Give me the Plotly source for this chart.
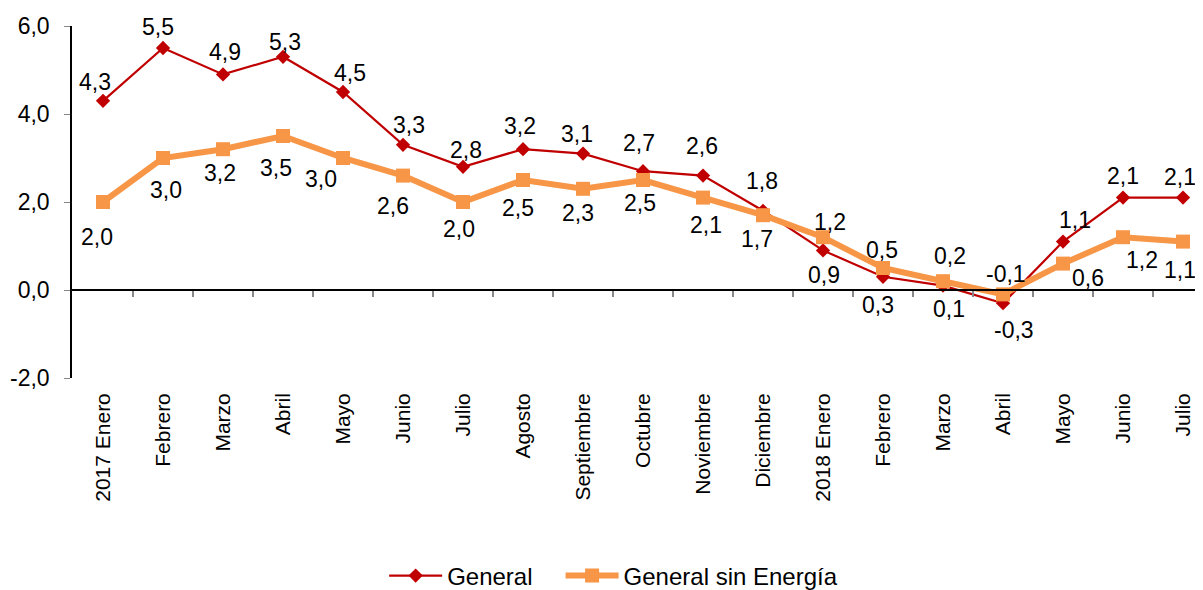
import plotly.graph_objects as go

categorias = ["2017 Enero", "Febrero", "Marzo", "Abril", "Mayo", "Junio", "Julio",
              "Agosto", "Septiembre", "Octubre", "Noviembre", "Diciembre",
              "2018 Enero", "Febrero", "Marzo", "Abril", "Mayo", "Junio", "Julio"]
general = [4.3, 5.5, 4.9, 5.3, 4.5, 3.3, 2.8, 3.2, 3.1, 2.7, 2.6, 1.8,
           0.9, 0.3, 0.1, -0.3, 1.1, 2.1, 2.1]
sin_energia = [2.0, 3.0, 3.2, 3.5, 3.0, 2.6, 2.0, 2.5, 2.3, 2.5, 2.1, 1.7,
               1.2, 0.5, 0.2, -0.1, 0.6, 1.2, 1.1]
y_ticks = [-2, 0, 2, 4, 6]

# data-label placement (pixel offsets from each point; +dy = downwards)
dx_general = [-8, -5, 2, 2, 7, 6, 3, -3, -6, -4, -1, -1, 1, -5, 6, 11, 12, 0, -3]
dy_general = [-19, -21, -22, -15, -19, -20, -17, -23, -20, -28, -30, -30,
              25, 28, 23, 27, -22, -22, -21]
dx_sin = [-6, 3, -3, -7, -22, -10, -4, -5, -5, -3, 3, -6, 7, -1, 7, 3, 25, 19, -3]
dy_sin = [35, 32, 24, 32, 21, 30, 27, 28, 24, 23, 27, 24, -15, -18, -25, -20, 14, 23, 28]

def fmt(v):
    return f"{v:.1f}".replace(".", ",")

x = list(range(len(categorias)))
FONT = "Liberation Sans, Arial, sans-serif"
LABEL_SIZE = 23

fig = go.Figure()
fig.add_trace(go.Scatter(
    x=x, y=general, name="General", mode="lines+markers",
    line=dict(color="#C00000", width=2.2),
    marker=dict(symbol="diamond", size=11, color="#C00000"),
    cliponaxis=False, legend="legend",
))
fig.add_trace(go.Scatter(
    x=x, y=sin_energia, name="General sin Energía", mode="lines+markers",
    line=dict(color="#F79646", width=6),
    marker=dict(symbol="square", size=14, color="#F79646"),
    cliponaxis=False, legend="legend2",
))
# invisible trace on xaxis2 so the zero-line axis with its ticks is drawn
fig.add_trace(go.Scatter(x=[0], y=[0], xaxis="x2", mode="markers",
                         marker=dict(opacity=0), showlegend=False, hoverinfo="skip"))

annotations = []
for serie, dxs, dys in ((general, dx_general, dy_general), (sin_energia, dx_sin, dy_sin)):
    for i, v in enumerate(serie):
        annotations.append(dict(
            x=x[i], y=v, xref="x", yref="y", text=fmt(v), showarrow=False,
            xanchor="center", yanchor="middle", xshift=dxs[i], yshift=-dys[i],
            font=dict(size=LABEL_SIZE, color="#000000", family=FONT),
        ))

leg_common = dict(orientation="h", yanchor="middle", y=-0.5625, xanchor="left",
                  font=dict(size=24), bgcolor="rgba(0,0,0,0)", itemwidth=53)

# page body adds an 8px margin, so the figure is 8px smaller in each direction
fig.update_layout(
    width=1195, height=582,
    margin=dict(l=64, r=0, t=18, b=212, autoexpand=False),
    paper_bgcolor="white", plot_bgcolor="white",
    font=dict(family=FONT, size=20, color="#000000"),
    showlegend=True,
    legend=dict(x=0.276, **leg_common),
    legend2=dict(x=0.432, **leg_common),
    annotations=annotations,
    xaxis=dict(
        range=[-0.517, 18.333], tickmode="array", tickvals=x, ticktext=categorias,
        tickangle=-90, showline=False, showgrid=False, zeroline=False,
        ticks="", ticklabelstandoff=10, tickfont=dict(size=21), automargin=False,
    ),
    xaxis2=dict(
        overlaying="x", anchor="free", position=0.25,
        range=[-0.517, 18.333], tickmode="array",
        tickvals=[i + 0.5 for i in range(len(categorias))],
        showticklabels=False, showline=True, linecolor="#000000", linewidth=1.5,
        ticks="outside", ticklen=6, tickcolor="#888888", tickwidth=2,
        showgrid=False, zeroline=False, automargin=False,
    ),
    yaxis=dict(
        range=[-2, 6], tickmode="array", tickvals=y_ticks,
        ticktext=[fmt(v) for v in y_ticks],
        showline=True, linecolor="#000000", linewidth=1.5,
        ticks="outside", ticklen=6, tickcolor="#888888", ticklabelstandoff=10,
        showgrid=False, zeroline=False, tickfont=dict(size=23), automargin=False,
    ),
)

fig.write_html("out.html")
